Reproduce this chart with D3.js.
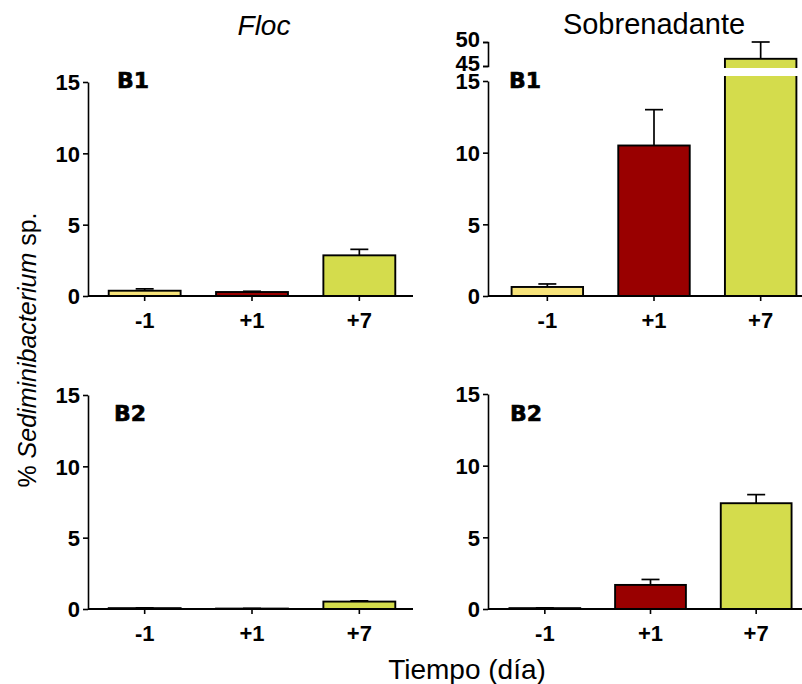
<!DOCTYPE html>
<html>
<head>
<meta charset="utf-8">
<script src="https://cdn.jsdelivr.net/npm/d3@7"></script>
<style>
  body { margin: 0; background: #fff; }
  svg text { font-family: "Liberation Sans", Arial, sans-serif; }
  .tick text { font-size: 22px; font-weight: bold; fill: #000; }
  .domain, .tick line { stroke: #000; stroke-width: 1.6; }
</style>
</head>
<body>
<svg id="chart" width="802" height="684"></svg>
<script>
// days
var categories = ["-1", "+1", "+7"];
var barColors = ["#F7E37A", "#990000", "#D4DC4C"];

// % Sediminibacterium sp., mean and upper error
var flocB1 = [0.37, 0.28, 2.85];
var flocB1Err = [0.13, 0.05, 0.42];
var sobB1 = [0.63, 10.5, 46.5];
var sobB1Err = [0.21, 2.5, 3.5];
var flocB2 = [0.06, 0.03, 0.52];
var flocB2Err = [0.02, 0.01, 0.05];
var sobB2 = [0.06, 1.68, 7.38];
var sobB2Err = [0.02, 0.38, 0.6];

var yTicks = [0, 5, 10, 15];
var yBreakTicks = [45, 50];

var svg = d3.select("#chart");

var panels = [
  {name: "B1", vals: flocB1, err: flocB1Err, ax: 88, x0: 91, x1: 413, y0: 296, y1: 82, lx: 117, ly: 88},
  {name: "B1", vals: sobB1, err: sobB1Err, ax: 488, x0: 494, x1: 814, y0: 296, y1: 81, lx: 509, ly: 88, broken: true},
  {name: "B2", vals: flocB2, err: flocB2Err, ax: 88, x0: 91, x1: 413, y0: 609, y1: 395, lx: 114, ly: 421},
  {name: "B2", vals: sobB2, err: sobB2Err, ax: 488, x0: 492, x1: 809, y0: 609, y1: 394, lx: 510, ly: 421}
];

panels.forEach(function(p) {
  var g = svg.append("g");
  var x = d3.scaleBand().domain(categories).range([p.x0, p.x1])
      .paddingInner(0.33).paddingOuter(0.165);
  var y = d3.scaleLinear().domain([0, 15]).range([p.y0, p.y1]);
  var yUp = d3.scaleLinear().domain([45, 50]).range([p.y1 - 15, p.y1 - 39]);
  function yy(v) { return (p.broken && v > 15) ? yUp(v) : y(v); }

  var data = p.vals.map(function(v, i) {
    return {cat: categories[i], v: v, e: p.err[i], c: barColors[i]};
  });

  // bars
  g.selectAll("rect.bar").data(data).enter().append("rect")
      .attr("class", "bar")
      .attr("x", function(d) { return x(d.cat); })
      .attr("width", x.bandwidth())
      .attr("y", function(d) { return yy(d.v); })
      .attr("height", function(d) { return p.y0 - yy(d.v); })
      .attr("fill", function(d) { return d.c; })
      .attr("stroke", "#000")
      .attr("stroke-width", 1.9);

  // break in the tall bar
  if (p.broken) {
    data.filter(function(d) { return d.v > 15; }).forEach(function(d) {
      g.append("rect")
          .attr("x", x(d.cat) - 2)
          .attr("width", x.bandwidth() + 4)
          .attr("y", yUp(45) + 2)
          .attr("height", y(15) - 5 - yUp(45) - 2)
          .attr("fill", "#fff");
    });
  }

  // error bars (upper only)
  var eb = g.selectAll("g.err").data(data).enter().append("g").attr("class", "err");
  eb.append("line")
      .attr("x1", function(d) { return x(d.cat) + x.bandwidth() / 2; })
      .attr("x2", function(d) { return x(d.cat) + x.bandwidth() / 2; })
      .attr("y1", function(d) { return yy(d.v); })
      .attr("y2", function(d) { return yy(d.v + d.e); })
      .attr("stroke", "#000").attr("stroke-width", 1.7);
  eb.append("line")
      .attr("x1", function(d) { return x(d.cat) + x.bandwidth() / 2 - 9; })
      .attr("x2", function(d) { return x(d.cat) + x.bandwidth() / 2 + 9; })
      .attr("y1", function(d) { return yy(d.v + d.e); })
      .attr("y2", function(d) { return yy(d.v + d.e); })
      .attr("stroke", "#000").attr("stroke-width", 1.7);

  // y axis
  var ya = g.append("g")
      .attr("transform", "translate(" + p.ax + ",0)")
      .call(d3.axisLeft(y).tickValues(yTicks).tickSize(5).tickSizeOuter(0).tickPadding(3));
  ya.selectAll(".tick text").attr("dy", "0.36em");
  if (p.broken) {
    var yb = g.append("g")
        .attr("transform", "translate(" + p.ax + ",0)")
        .call(d3.axisLeft(yUp).tickValues(yBreakTicks).tickFormat(d3.format("d"))
          .tickSize(5).tickSizeOuter(5).tickPadding(3));
    yb.select(".domain").attr("fill", "none");
    yb.selectAll(".tick text").attr("dy", "0.22em");
  }

  // x axis
  var xa = g.append("g")
      .attr("transform", "translate(0," + p.y0 + ")")
      .call(d3.axisBottom(x).tickSize(5).tickPadding(11));
  xa.select(".domain").remove();
  g.append("line")
      .attr("x1", p.ax).attr("x2", p.x1)
      .attr("y1", p.y0).attr("y2", p.y0)
      .attr("stroke", "#000").attr("stroke-width", 1.9);

  // panel label
  g.append("text")
      .attr("x", p.lx)
      .attr("y", p.ly)
      .style("font-family", "'DejaVu Sans', sans-serif")
      .style("font-weight", "bold")
      .style("font-size", "22px")
      .style("stroke", "#000")
      .style("stroke-width", 0.6)
      .text(p.name);
});

// column titles
svg.append("text")
    .attr("x", 264).attr("y", 35)
    .attr("text-anchor", "middle")
    .style("font-size", "28px").style("font-style", "italic")
    .text("Floc");
svg.append("text")
    .attr("x", 654).attr("y", 34)
    .attr("text-anchor", "middle")
    .style("font-size", "29px")
    .text("Sobrenadante");

// axis titles
svg.append("text")
    .attr("x", 467).attr("y", 679)
    .attr("text-anchor", "middle")
    .style("font-size", "28px")
    .text("Tiempo (día)");

var yl = svg.append("text")
    .attr("transform", "translate(36,350) rotate(-90)")
    .attr("text-anchor", "middle")
    .style("font-size", "25px");
yl.append("tspan").text("% ");
yl.append("tspan").style("font-style", "italic").text("Sediminibacterium");
yl.append("tspan").text(" sp.");
</script>
</body>
</html>
